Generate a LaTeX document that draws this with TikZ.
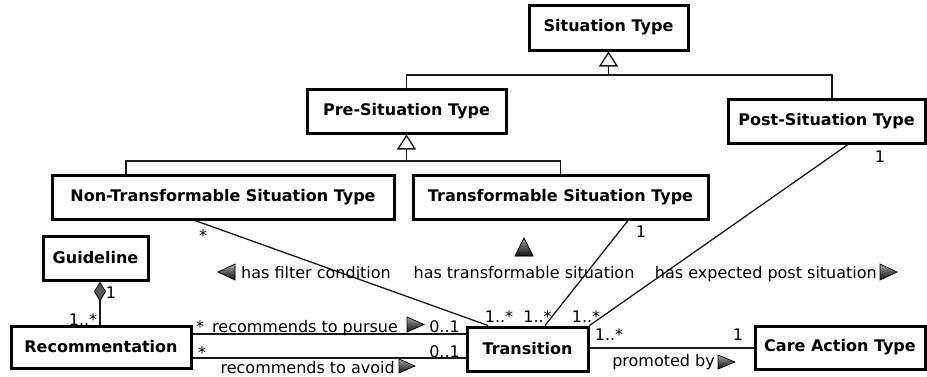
\documentclass[tikz,border=0pt]{standalone}
\usepackage{fontspec}
\setmainfont{DejaVu Sans}
\usetikzlibrary{arrows.meta}
\begin{document}
\begin{tikzpicture}[x=1pt,y=-1pt,
  box/.style={draw=black, line width=3pt, fill=white, inner sep=0pt, font=\fontsize{16}{19}\selectfont\bfseries},
  conn/.style={draw=black!90, line width=1.3pt},
  lbl/.style={inner sep=0pt, anchor=base, font=\fontsize{16}{19}\selectfont, text=black},
  gen/.style={conn, -{Triangle[open, length=15pt, width=19pt, line width=1.3pt]}},
  agg/.style={conn, {Diamond[length=20pt, width=12pt, line width=1pt, fill=black!65]}-},
  rtri/.style={draw=black, line width=0.7pt, top color=gray!70, bottom color=black!95}
]
\useasboundingbox (0,0) rectangle (927,376);
\fill[white] (0,0) rectangle (927,376);

% classes
\node[box, minimum width=159pt, minimum height=45pt] (sit) at (608.5,27.5) {Situation Type};
\node[box, minimum width=199pt, minimum height=44pt] (pre) at (406.5,111) {Pre-Situation Type};
\node[box, minimum width=197pt, minimum height=44pt] (post) at (826.5,121) {Post-Situation Type};
\node[box, minimum width=342pt, minimum height=44pt] (nont) at (223,197) {Non-Transformable Situation Type};
\node[box, minimum width=295pt, minimum height=44pt] (trans) at (560.5,197) {Transformable Situation Type};
\node[box, minimum width=105pt, minimum height=44pt] (guide) at (95.5,258) {Guideline};
\node[box, minimum width=180pt, minimum height=42pt] (rec) at (101,347) {Recommentation};
\node[box, minimum width=121pt, minimum height=44pt] (tr) at (527.5,349) {Transition};
\node[box, minimum width=170pt, minimum height=43pt] (care) at (840,347.5) {Care Action Type};

% generalisation trees
\coordinate (j1) at (608.5,75);
\coordinate (postTop) at (832,97.5);
\draw[conn] (pre.north) |- (j1) -| (postTop);
\draw[gen] (j1) -- (sit.south);
\coordinate (j2) at (406.5,161);
\coordinate (ntTop) at (126,173.5);
\draw[conn] (ntTop) |- (j2) -| (trans.north);
\draw[gen] (j2) -- (pre.south);

% associations to Transition
\coordinate (ntBot) at (195,220.5);
\coordinate (trA) at (488,325.5);
\draw[conn] (ntBot) -- (trA);
\coordinate (tfBot) at (628,220.5);
\coordinate (trB) at (545,325.5);
\draw[conn] (tfBot) -- (trB);
\coordinate (psBot) at (848,144.5);
\draw[conn] (psBot) -- (tr.north east);

% Recommentation - Transition
\coordinate (y1) at (0,334);
\coordinate (y2) at (0,358);
\draw[conn] (rec.east |- y1) -- (tr.west |- y1);
\draw[conn] (rec.east |- y2) -- (tr.west |- y2);

% Transition - Care Action Type
\coordinate (y3) at (0,348);
\draw[conn] (tr.east |- y3) -- (care.west |- y3);

% Guideline aggregation
\coordinate (gb) at (100,281.5);
\coordinate (rt) at (100,324.5);
\draw[agg] (gb) -- (rt);

% reading direction triangles
\fill[rtri] (235,264) -- (218,272) -- (235,280) -- cycle;
\fill[rtri] (515,256) -- (524,238) -- (533,256) -- cycle;
\fill[rtri] (880,264) -- (897,272) -- (880,280) -- cycle;
\fill[rtri] (407,317) -- (424,324.5) -- (407,332) -- cycle;
\fill[rtri] (399,359) -- (415,366) -- (399,373) -- cycle;
\fill[rtri] (718,355) -- (735,362) -- (718,369) -- cycle;

% association labels
\node[lbl, anchor=base west] (lFC) at (241,278) {has filter condition};
\node[lbl] (lTS) at (524,278) {has transformable situation};
\node[lbl, anchor=base east] (lPS) at (877,278) {has expected post situation};
\node[lbl, anchor=base west] (lRP) at (212,332) {recommends to pursue};
\node[lbl, anchor=base east] (lRA) at (395,373) {recommends to avoid};
\node[lbl, anchor=base east] (lPB) at (715,366) {promoted by};

% multiplicities
\node[lbl] (mNT) at (203,241) {*};
\node[lbl] (mTF) at (641,237) {1};
\node[lbl] (mPS) at (880,162) {1};
\node[lbl] (mT1) at (499,322) {1..*};
\node[lbl] (mT2) at (537.5,322) {1..*};
\node[lbl] (mT3) at (586,322) {1..*};
\node[lbl] (mG1) at (111,298) {1};
\node[lbl] (mG2) at (83,325) {1..*};
\node[lbl] (mR1) at (200,332) {*};
\node[lbl, anchor=base east] (mR2) at (460,332) {0..1};
\node[lbl] (mR3) at (202,358) {*};
\node[lbl, anchor=base east] (mR4) at (460,357) {0..1};
\node[lbl] (mC1) at (609,340) {1..*};
\node[lbl] (mC2) at (738,340) {1};
\end{tikzpicture}
\end{document}
